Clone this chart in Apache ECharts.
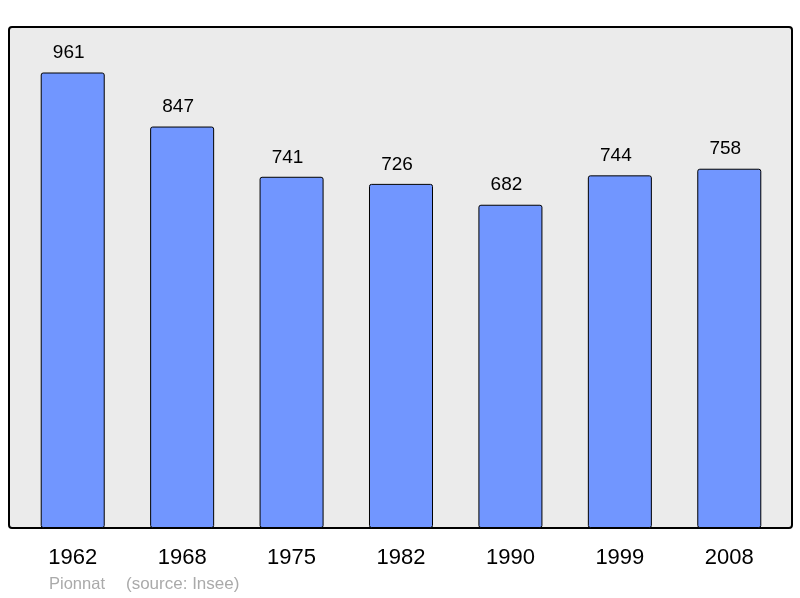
<!DOCTYPE html>
<html><head><meta charset="utf-8">
<script src="https://cdn.jsdelivr.net/npm/echarts@6/dist/echarts.min.js"></script>
<style>html,body{margin:0;padding:0;background:#fff}#c{width:800px;height:598px}</style>
</head><body><div id="c"></div>
<script>
const categories = ['1962','1968','1975','1982','1990','1999','2008'];
const population = [961,847,741,726,682,744,758];
const chart = echarts.init(document.getElementById('c'));
chart.setOption({
  animation: false,
  graphic: [
    {type:'rect', z:-10, shape:{x:9,y:27,width:783,height:501,r:3}, style:{fill:'#ebebeb',stroke:'#000',lineWidth:2}},
    {type:'text', left:49, top:576, style:{text:'Pionnat', fill:'#aaaaaa', font:'16.5px "Liberation Sans", Arial, sans-serif'}},
    {type:'text', left:126, top:576, style:{text:'(source: Insee)', fill:'#aaaaaa', font:'17px "Liberation Sans", Arial, sans-serif'}}
  ],
  grid:{left:18,right:16,top:27,bottom:70},
  xAxis:{type:'category',data:categories,axisLine:{show:false},axisTick:{show:false},
    axisLabel:{margin:19,fontSize:22,color:'#000',fontFamily:'"Liberation Sans", Arial, sans-serif'}},
  yAxis:{type:'value',min:0,max:1057,show:false,splitLine:{show:false}},
  series:[{type:'bar',data:population,barWidth:'58.5%',
    itemStyle:{color:'#7196ff',borderColor:'#000',borderWidth:1,borderRadius:2},
    label:{show:true,position:'top',distance:10,offset:[-4,0],fontSize:19,color:'#000',fontFamily:'"Liberation Sans", Arial, sans-serif'}}]
});
</script></body></html>
